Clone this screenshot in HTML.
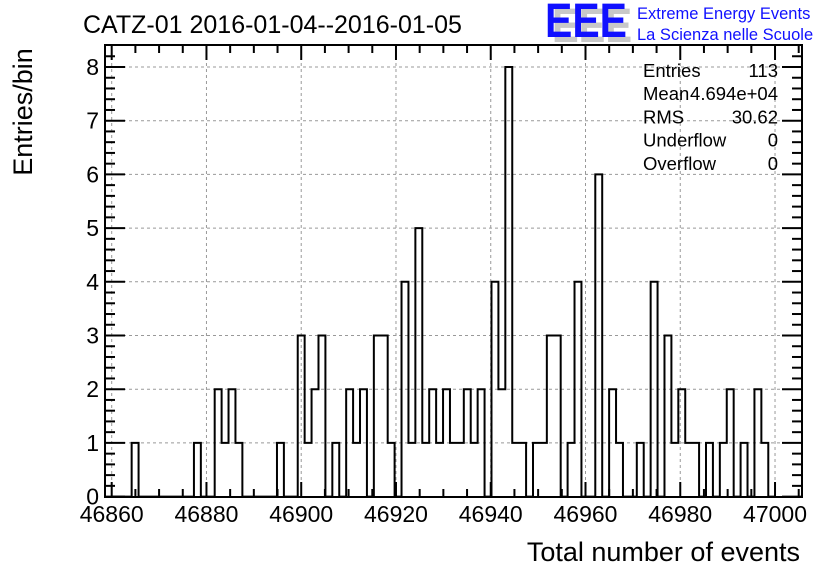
<!DOCTYPE html>
<html><head><meta charset="utf-8"><style>
body{margin:0;background:#fff;width:836px;height:572px;overflow:hidden}
svg{display:block;font-family:"Liberation Sans",sans-serif}
</style></head><body>
<svg id="c" width="836" height="572"></svg>
<script>
const counts = [0,0,0,1,0,0,0,0,0,0,0,0,1,0,0,2,1,2,1,0,0,0,0,0,1,0,0,3,1,2,3,0,1,0,2,1,2,0,3,3,1,0,4,1,5,1,2,1,2,1,1,2,1,2,0,4,2,8,1,1,0,1,1,3,3,0,1,4,0,0,6,0,2,1,0,0,1,0,4,0,3,1,2,1,1,0,1,0,1,2,0,1,0,2,1,0];
const xTicks = [46860,46880,46900,46920,46940,46960,46980,47000];
const yTicks = [0,1,2,3,4,5,6,7,8];
const statLabels = ["Entries","Mean","RMS","Underflow","Overflow"];
const statValues = ["113","4.694e+04","30.62","0","0"];
const binStart = 46859.83, binWidth = 1.4605;

const NS="http://www.w3.org/2000/svg";
const svg=document.getElementById('c');
const L=105,R=802,T=45,B=497;
const x0v=46860, x0p=111.7, xs=4.738;
const X=v=>x0p+(v-x0v)*xs;
const Y=v=>496.6-v*53.7;
function mk(tag,at,parent){const e=document.createElementNS(NS,tag);for(const k in at)e.setAttribute(k,at[k]);(parent||svg).appendChild(e);return e;}

// grid
const grid=mk('g',{stroke:'#999','stroke-dasharray':'3,3','stroke-width':1});


xTicks.forEach(v=>{mk('line',{x1:X(v),x2:X(v),y1:T,y2:B},grid);});
yTicks.forEach(v=>{if(v>0)mk('line',{x1:L,x2:R,y1:Y(v),y2:Y(v)},grid);});

// histogram
let d='M'+X(binStart)+','+Y(0);
counts.forEach((c,i)=>{const a=X(binStart+i*binWidth),b=X(binStart+(i+1)*binWidth);d+=' L'+a+','+Y(c)+' L'+b+','+Y(c);});
d+=' L'+X(binStart+counts.length*binWidth)+','+Y(0);
const h=mk('path',{d:d,fill:'none',stroke:'#000','stroke-width':2});



// frame
const fr=mk('rect',{x:L,y:T,width:R-L,height:B-T,fill:'none',stroke:'#000','stroke-width':2});



// ticks
const tk=mk('g',{stroke:'#000','stroke-width':2});


for(let v=46860;v<=47005;v+=5){const major=(v%20===0);const l=major?15:8;const px=X(v);
 mk('line',{x1:px,x2:px,y1:B,y2:B-l},tk);mk('line',{x1:px,x2:px,y1:T,y2:T+l},tk);}
for(let k=0;k<=41;k++){const v=k*0.2;const major=(k%5===0);const l=major?20:10;const py=Y(v);if(py<T)continue;
 mk('line',{x1:L,x2:L+l,y1:py,y2:py},tk);mk('line',{x1:R,x2:R-l,y1:py,y2:py},tk);}

// tick labels
xTicks.forEach(v=>{const t=mk('text',{x:X(v),y:522,'font-size':23,'text-anchor':'middle'});t.textContent=v;
 
 });
yTicks.forEach(v=>{const t=mk('text',{x:99,y:Y(v)+8,'font-size':23,'text-anchor':'end'});t.textContent=v;
 
 });

// stats
statLabels.forEach((s,i)=>{const y=77+i*23.2;
 const a=mk('text',{x:643,y:y,'font-size':18.5});a.textContent=s;
 
 
 const b=mk('text',{x:778,y:y,'font-size':18.5,'text-anchor':'end'});b.textContent=statValues[i];
 
 });
</script>
<svg width="836" height="572" style="position:absolute;left:0;top:0">
<text x="83" y="33" font-size="25" font-family="Liberation Sans, sans-serif">CATZ-01 2016-01-04--2016-01-05</text>
<text transform="translate(32,112) rotate(-90)" text-anchor="middle" font-size="27" font-family="Liberation Sans, sans-serif">Entries/bin</text>
<text x="800" y="561" text-anchor="end" font-size="27" font-family="Liberation Sans, sans-serif">Total number of events</text>
<g font-family="Liberation Sans, sans-serif" font-weight="bold" font-size="48">
<text x="552" y="42" fill="#c8c8c8" textLength="80" lengthAdjust="spacingAndGlyphs">EEE</text>
<text x="545" y="37" fill="#1010ff" textLength="82" lengthAdjust="spacingAndGlyphs">EEE</text>
</g>
<text x="637" y="19" font-size="16.5" fill="#1010ff" font-family="Liberation Sans, sans-serif">Extreme Energy Events</text>
<text x="637" y="40" font-size="16.5" fill="#1010ff" font-family="Liberation Sans, sans-serif">La Scienza nelle Scuole</text>
</svg>
<style>body{position:relative}</style>
</body></html>
